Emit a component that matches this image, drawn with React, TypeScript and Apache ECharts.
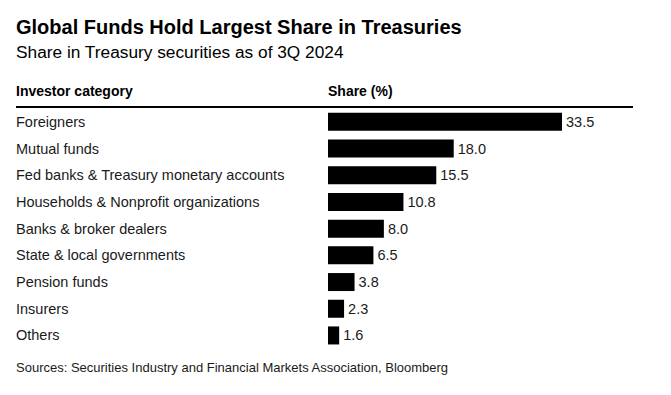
import React, { useEffect, useRef } from "react";
import * as echarts from "echarts";

const categories = [
  "Foreigners",
  "Mutual funds",
  "Fed banks & Treasury monetary accounts",
  "Households & Nonprofit organizations",
  "Banks & broker dealers",
  "State & local governments",
  "Pension funds",
  "Insurers",
  "Others",
];
const shares = [33.5, 18.0, 15.5, 10.8, 8.0, 6.5, 3.8, 2.3, 1.6];

const titleText = "Global Funds Hold Largest Share in Treasuries";
const subtitleText = "Share in Treasury securities as of 3Q 2024";
const headerLeft = "Investor category";
const headerRight = "Share (%)";
const sourceText = "Sources: Securities Industry and Financial Markets Association, Bloomberg";

const FONT = '"Liberation Sans", Arial, Helvetica, sans-serif';

export default function App() {
  const ref = useRef<HTMLDivElement>(null);
  useEffect(() => {
    if (!ref.current) return;
    const chart = echarts.init(ref.current, null, { renderer: "svg" });
    chart.setOption({
      animation: false,
      backgroundColor: "#ffffff",
      textStyle: { fontFamily: FONT },
      grid: { left: 328, top: 108.5, width: 279.4, height: 240.3, containLabel: false },
      xAxis: {
        type: "value",
        min: 0,
        max: 40,
        show: false,
      },
      yAxis: {
        type: "category",
        data: categories,
        inverse: true,
        axisLine: { show: false },
        axisTick: { show: false },
        splitLine: { show: false },
        axisLabel: {
          align: "left",
          margin: 312,
          fontSize: 14.5,
          color: "#1a1a1a",
          fontFamily: FONT,
          verticalAlign: "middle",
          padding: [0, 0, 4, 0],
        },
      },
      series: [
        {
          type: "bar",
          data: shares,
          barWidth: 18,
          itemStyle: { color: "#000000" },
          label: {
            show: true,
            position: "right",
            distance: 4,
            fontSize: 14.5,
            color: "#1a1a1a",
            fontFamily: FONT,
            formatter: (p: any) => Number(p.value).toFixed(1),
          },
        },
      ],
      graphic: [
        {
          type: "text",
          x: 16,
          y: 26.5,
          style: {
            text: titleText,
            fontSize: 20,
            fontWeight: "bold",
            fill: "#000000",
            fontFamily: FONT,
            textVerticalAlign: "middle",
          },
        },
        {
          type: "text",
          x: 16,
          y: 52,
          style: {
            text: subtitleText,
            fontSize: 17.3,
            fill: "#000000",
            fontFamily: FONT,
            textVerticalAlign: "middle",
          },
        },
        {
          type: "text",
          x: 16,
          y: 91,
          style: {
            text: headerLeft,
            fontSize: 14,
            fontWeight: "bold",
            fill: "#000000",
            fontFamily: FONT,
            textVerticalAlign: "middle",
          },
        },
        {
          type: "text",
          x: 328,
          y: 91,
          style: {
            text: headerRight,
            fontSize: 14,
            fontWeight: "bold",
            fill: "#000000",
            fontFamily: FONT,
            textVerticalAlign: "middle",
          },
        },
        {
          type: "rect",
          shape: { x: 16, y: 106, width: 617, height: 2 },
          style: { fill: "#000000" },
        },
        {
          type: "text",
          x: 16,
          y: 367,
          style: {
            text: sourceText,
            fontSize: 13,
            fill: "#1a1a1a",
            fontFamily: FONT,
            textVerticalAlign: "middle",
          },
        },
      ],
    });
    return () => chart.dispose();
  }, []);
  return <div ref={ref} style={{ width: 671, height: 395, position: "absolute", left: 0, top: 0 }} />;
}
